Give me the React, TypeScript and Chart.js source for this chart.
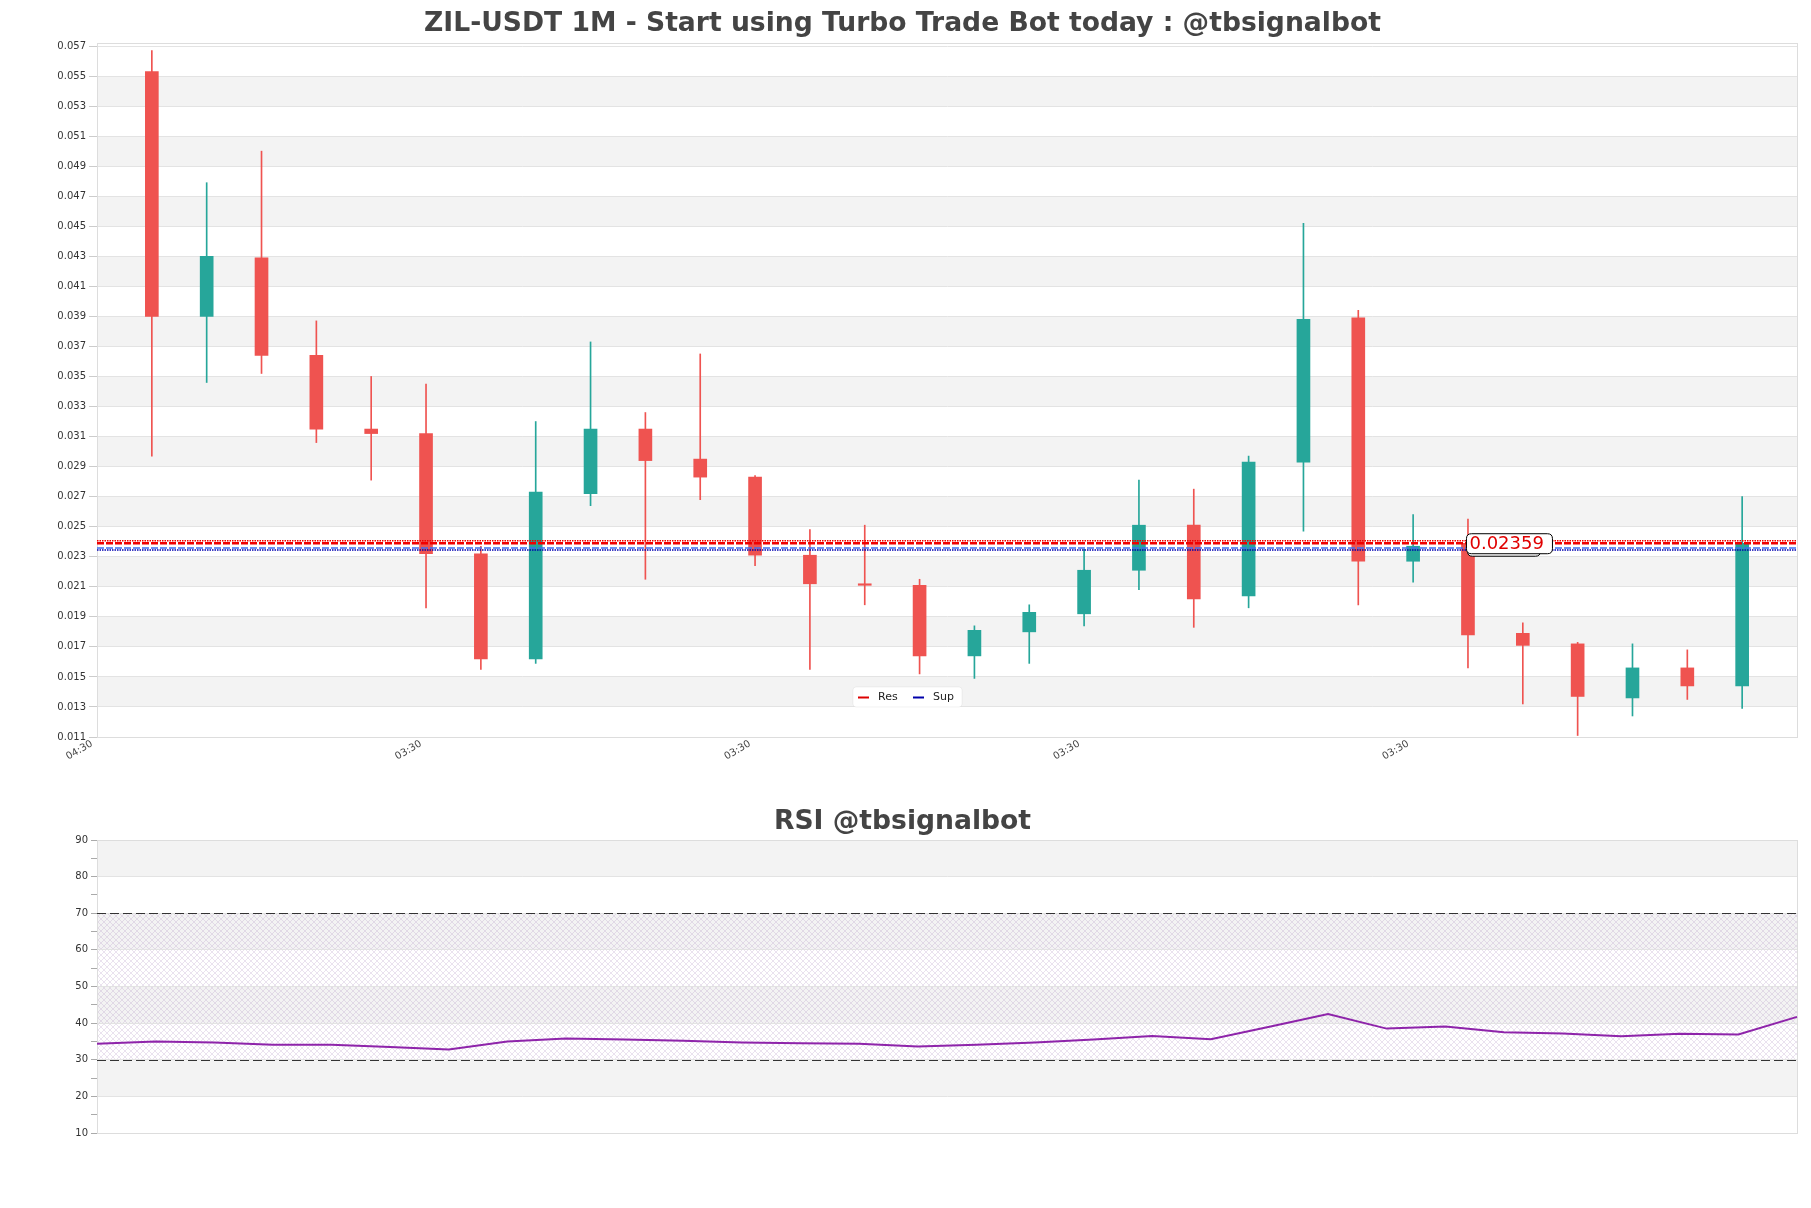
import React, { useEffect, useRef } from "react";
import { Chart, registerables } from "chart.js";

Chart.register(...registerables);

// ---------------- DATA ----------------
const titleMain = "ZIL-USDT 1M - Start using Turbo Trade Bot today : @tbsignalbot";
const titleRsi = "RSI @tbsignalbot";

const opens = [0.0553, 0.039, 0.0429, 0.0364, 0.0315, 0.0312, 0.0232, 0.0162, 0.0272, 0.0315, 0.0295, 0.0283, 0.0231, 0.0212, 0.0211, 0.0164, 0.018, 0.0192, 0.0221, 0.0251, 0.0204, 0.0293, 0.0389, 0.0227, 0.0239, 0.0179, 0.0172, 0.0136, 0.0156, 0.0144];
const highs = [0.0567, 0.0479, 0.05, 0.0387, 0.035, 0.0345, 0.0237, 0.032, 0.0373, 0.0326, 0.0365, 0.0284, 0.0248, 0.0251, 0.0215, 0.0184, 0.0198, 0.0235, 0.0281, 0.0275, 0.0297, 0.0452, 0.0394, 0.0258, 0.0255, 0.0186, 0.0173, 0.0172, 0.0168, 0.027];
const lows = [0.0297, 0.0346, 0.0352, 0.0306, 0.0281, 0.0196, 0.0155, 0.0159, 0.0264, 0.0215, 0.0268, 0.0224, 0.0155, 0.0198, 0.0152, 0.0149, 0.0159, 0.0184, 0.0208, 0.0183, 0.0196, 0.0247, 0.0198, 0.0213, 0.0156, 0.0132, 0.0111, 0.0124, 0.0135, 0.0129];
const closes = [0.039, 0.043, 0.0364, 0.0315, 0.0312, 0.0232, 0.0162, 0.0273, 0.0315, 0.0294, 0.0283, 0.0231, 0.0212, 0.0211, 0.0164, 0.0181, 0.0193, 0.0221, 0.0251, 0.0202, 0.0293, 0.0388, 0.0227, 0.0237, 0.0178, 0.0171, 0.0137, 0.0156, 0.0144, 0.0239];

const priceTicks = [0.011, 0.013, 0.015, 0.017, 0.019, 0.021, 0.023, 0.025, 0.027, 0.029, 0.031, 0.033, 0.035, 0.037, 0.039, 0.041, 0.043, 0.045, 0.047, 0.049, 0.051, 0.053, 0.055, 0.057];
const priceMin = 0.011;
const priceMax = 0.0572;
const xTickPositions = [0, 6, 12, 18, 24];
const xTickLabels = ["04:30", "03:30", "03:30", "03:30", "03:30"];

const resLevel = 0.0239;
const supLevel = 0.02359;
const priceTagText = "0.02359";
const priceTagX = 25;

const rsiValues = [34.4, 35.0, 34.7, 34.1, 34.1, 33.5, 32.8, 35.0, 35.8, 35.5, 35.2, 34.7, 34.5, 34.4, 33.6, 34.1, 34.7, 35.5, 36.5, 35.6, 39.0, 42.5, 38.5, 39.1, 37.5, 37.2, 36.4, 37.1, 36.9, 41.7];
const rsiTicks = [10, 15, 20, 25, 30, 35, 40, 45, 50, 55, 60, 65, 70, 75, 80, 85, 90];
const rsiUpper = 70;
const rsiLower = 30;

// ---------------- STYLE ----------------
const UP = "#26a69a";
const DOWN = "#ef5350";
const GRID = "#e3e3e3";
const BAND = "#f3f3f3";
const FONT = "'DejaVu Sans', sans-serif";
const TITLE_SIZE = 26.6;
const CANVAS_W = 1795;
const MAIN_H = 782;
const RSI_H = 410;
const AXIS_W = 89;

Chart.defaults.font.family = FONT;

function drawBands(chart: any, ticks: number[]) {
  const { ctx, chartArea: a, scales } = chart;
  const ys = scales.y;
  ctx.save();
  ctx.fillStyle = BAND;
  for (let j = 0; j < ticks.length - 1; j++) {
    if (j % 2 === 1) {
      const y1 = ys.getPixelForValue(ticks[j + 1]);
      const y2 = ys.getPixelForValue(ticks[j]);
      ctx.fillRect(a.left, y1, a.right - a.left, y2 - y1);
    }
  }
  ctx.restore();
}

function drawFrame(chart: any) {
  const { ctx, chartArea: a } = chart;
  ctx.save();
  ctx.strokeStyle = "#dddddd";
  ctx.lineWidth = 1;
  ctx.strokeRect(Math.round(a.left) + 0.5, Math.round(a.top) + 0.5, Math.round(a.right - a.left), Math.round(a.bottom - a.top));
  ctx.restore();
}

function roundRect(ctx: CanvasRenderingContext2D, x: number, y: number, w: number, h: number, r: number) {
  ctx.beginPath();
  ctx.moveTo(x + r, y);
  ctx.lineTo(x + w - r, y);
  ctx.quadraticCurveTo(x + w, y, x + w, y + r);
  ctx.lineTo(x + w, y + h - r);
  ctx.quadraticCurveTo(x + w, y + h, x + w - r, y + h);
  ctx.lineTo(x + r, y + h);
  ctx.quadraticCurveTo(x, y + h, x, y + h - r);
  ctx.lineTo(x, y + r);
  ctx.quadraticCurveTo(x, y, x + r, y);
  ctx.closePath();
}

const mainPlugin = {
  id: "mainDecor",
  beforeDraw(chart: any) {
    drawBands(chart, priceTicks);
  },
  beforeDatasetsDraw(chart: any) {
    drawFrame(chart);
  },
  afterDatasetsDraw(chart: any) {
    const { ctx, chartArea: a, scales } = chart;
    const resY = scales.y.getPixelForValue(resLevel);
    const supY = scales.y.getPixelForValue(supLevel);
    ctx.save();
    ctx.beginPath();
    ctx.rect(a.left, a.top, a.right - a.left, a.bottom - a.top);
    ctx.clip();
    ctx.lineWidth = 1.5;
    ctx.setLineDash([1.5, 1]);
    ctx.strokeStyle = "#ee0000";
    ctx.beginPath();
    ctx.moveTo(a.left, resY - 2.5);
    ctx.lineTo(a.right, resY - 2.5);
    ctx.stroke();
    ctx.strokeStyle = "#0000b0";
    ctx.beginPath();
    ctx.moveTo(a.left, supY + 2);
    ctx.lineTo(a.right, supY + 2);
    ctx.stroke();
    ctx.setLineDash([]);
    ctx.restore();

    // price tag
    ctx.save();
    const tx = scales.x.getPixelForValue(priceTagX) - 2;
    const ty = resY;
    ctx.lineWidth = 1;
    ctx.strokeStyle = "#000";
    ctx.fillStyle = "#fff";
    roundRect(ctx, tx + 1.5, ty - 6.5, 73, 19.5, 5);
    ctx.fill();
    ctx.stroke();
    roundRect(ctx, tx + 0.5, ty - 9.5, 86, 20, 5);
    ctx.fill();
    ctx.stroke();
    ctx.fillStyle = "#e00000";
    ctx.font = `18px ${FONT}`;
    ctx.textBaseline = "middle";
    ctx.textAlign = "left";
    ctx.fillText(priceTagText, tx + 3.5, ty + 1);
    ctx.restore();

    // legend
    ctx.save();
    const lw = 109;
    const lh = 20;
    const lx = Math.round(chart.width / 2 - 53);
    const ly = Math.round(a.bottom - 50);
    ctx.fillStyle = "rgba(255,255,255,0.95)";
    roundRect(ctx, lx, ly, lw, lh, 3);
    ctx.fill();
    ctx.strokeStyle = "rgba(0,0,0,0.05)";
    ctx.stroke();
    const items = chart.data.datasets.filter((d: any) => d.label === "Res" || d.label === "Sup");
    ctx.font = `11px ${FONT}`;
    ctx.textBaseline = "middle";
    items.forEach((d: any, k: number) => {
      const ox = lx + 5 + k * 55;
      ctx.strokeStyle = d.label === "Res" ? "#dd0000" : "#0000aa";
      ctx.lineWidth = 2;
      ctx.beginPath();
      ctx.moveTo(ox, ly + 10.5);
      ctx.lineTo(ox + 11, ly + 10.5);
      ctx.stroke();
      ctx.fillStyle = "#222";
      ctx.fillText(d.label, ox + 20, ly + 10.5);
    });
    ctx.restore();
  },
};

function makeHatch(ctx: CanvasRenderingContext2D) {
  const c = document.createElement("canvas");
  c.width = 12;
  c.height = 12;
  const p = c.getContext("2d")!;
  p.strokeStyle = "rgba(175,145,195,0.38)";
  p.lineWidth = 0.7;
  for (const off of [-12, -6, 0, 6, 12]) {
    p.beginPath();
    p.moveTo(off, 0);
    p.lineTo(off + 12, 12);
    p.stroke();
    p.beginPath();
    p.moveTo(off + 12, 0);
    p.lineTo(off, 12);
    p.stroke();
  }
  return ctx.createPattern(c, "repeat");
}

const rsiPlugin = {
  id: "rsiDecor",
  beforeDraw(chart: any) {
    drawBands(chart, rsiTicks.filter((t) => t % 10 === 0));
    const { ctx, chartArea: a, scales } = chart;
    const y1 = scales.y.getPixelForValue(rsiUpper);
    const y2 = scales.y.getPixelForValue(rsiLower);
    ctx.save();
    const pat = makeHatch(ctx);
    if (pat) {
      ctx.fillStyle = pat;
      ctx.fillRect(a.left, y1, a.right - a.left, y2 - y1);
    }
    ctx.restore();
  },
  beforeDatasetsDraw(chart: any) {
    drawFrame(chart);
    const { ctx, chartArea: a, scales } = chart;
    ctx.save();
    ctx.strokeStyle = "#333";
    ctx.lineWidth = 1.2;
    ctx.setLineDash([9, 4]);
    for (const v of [rsiUpper, rsiLower]) {
      const y = Math.round(scales.y.getPixelForValue(v)) + 0.5;
      ctx.beginPath();
      ctx.moveTo(a.left, y);
      ctx.lineTo(a.right, y);
      ctx.stroke();
    }
    ctx.restore();
  },
};

export default function App() {
  const mainRef = useRef<HTMLCanvasElement | null>(null);
  const rsiRef = useRef<HTMLCanvasElement | null>(null);

  useEffect(() => {
    const xs = opens.map((_, i) => i + 1);
    const colors = opens.map((o, i) => (closes[i] >= o ? UP : DOWN));

    const main = new Chart(mainRef.current!, {
      type: "bar",
      data: {
        datasets: [
          {
            type: "bar",
            label: "body",
            data: xs.map((x, i) => ({ x, y: [opens[i], closes[i]] })) as any,
            backgroundColor: colors,
            borderWidth: 0,
            barThickness: 13,
            grouped: false,
            minBarLength: 1,
            order: 1,
          } as any,
          {
            type: "bar",
            label: "wick",
            data: xs.map((x, i) => ({ x, y: [lows[i], highs[i]] })) as any,
            backgroundColor: colors,
            borderWidth: 0,
            barThickness: 1,
            grouped: false,
            order: 2,
          } as any,
          {
            type: "line",
            label: "Res",
            data: [
              { x: 0, y: resLevel },
              { x: 31, y: resLevel },
            ],
            borderColor: "#f00000",
            borderWidth: 2.5,
            borderDash: [7, 2],
            pointRadius: 0,
            order: 0,
          } as any,
          {
            type: "line",
            label: "Sup",
            data: [
              { x: 0, y: supLevel },
              { x: 31, y: supLevel },
            ],
            borderColor: "#3d6cf0",
            borderWidth: 1.5,
            borderDash: [7, 2],
            pointRadius: 0,
            order: 0,
          } as any,
        ],
      },
      options: {
        responsive: false,
        animation: false,
        events: [],
        devicePixelRatio: 1,
        layout: { padding: { left: 0, right: CANVAS_W - 1789, top: 0, bottom: 0 } },
        plugins: {
          legend: { display: false },
          tooltip: { enabled: false },
          title: {
            display: true,
            text: titleMain,
            color: "#444",
            font: { family: FONT, size: TITLE_SIZE, weight: "bold" },
            padding: { top: 0, bottom: 35 - TITLE_SIZE * 1.2 },
          },
        },
        scales: {
          x: {
            type: "linear",
            min: 0,
            max: 31,
            offset: false,
            grid: { display: false, drawTicks: false, tickLength: 0, offset: false },
            border: { display: true, color: "#dddddd" },
            afterBuildTicks: (s: any) => {
              s.ticks = xTickPositions.map((v) => ({ value: v }));
            },
            afterFit: (s: any) => {
              s.height = MAIN_H - 729;
            },
            ticks: {
              autoSkip: false,
              minRotation: 30,
              maxRotation: 30,
              padding: 1,
              labelOffset: -5,
              color: "#444",
              font: { family: FONT, size: 10 },
              callback: (_v: any, idx: number) => xTickLabels[idx],
            },
          },
          y: {
            type: "linear",
            min: priceMin,
            max: priceMax,
            grid: { color: GRID, tickColor: "#cccccc", tickLength: 8 },
            border: { display: true, color: "#dddddd" },
            afterBuildTicks: (s: any) => {
              s.ticks = priceTicks.map((v) => ({ value: v }));
            },
            afterFit: (s: any) => {
              s.width = AXIS_W;
            },
            ticks: {
              color: "#333",
              padding: 3,
              font: { family: FONT, size: 10 },
              callback: (v: any) => Number(v).toFixed(3),
            },
          },
        },
      } as any,
      plugins: [mainPlugin],
    });

    const rsi = new Chart(rsiRef.current!, {
      type: "line",
      data: {
        labels: rsiValues.map(() => ""),
        datasets: [
          {
            label: "RSI",
            data: rsiValues,
            borderColor: "#8e24aa",
            borderWidth: 2,
            pointRadius: 0,
            tension: 0,
            fill: false,
          },
        ],
      },
      options: {
        responsive: false,
        animation: false,
        events: [],
        devicePixelRatio: 1,
        layout: { padding: { left: 0, right: CANVAS_W - 1789, top: 0, bottom: 0 } },
        plugins: {
          legend: { display: false },
          tooltip: { enabled: false },
          title: {
            display: true,
            text: titleRsi,
            color: "#444",
            font: { family: FONT, size: TITLE_SIZE, weight: "bold" },
            padding: { top: 16.5, bottom: 50 - 16.5 - TITLE_SIZE * 1.2 },
          },
        },
        scales: {
          x: {
            type: "category",
            offset: false,
            grid: { display: false },
            border: { display: true, color: "#dddddd" },
            ticks: { display: false },
            afterFit: (s: any) => {
              s.height = RSI_H - 343;
            },
          },
          y: {
            type: "linear",
            min: rsiTicks[0],
            max: rsiTicks[rsiTicks.length - 1],
            afterBuildTicks: (s: any) => {
              s.ticks = rsiTicks.map((v) => ({ value: v }));
            },
            afterFit: (s: any) => {
              s.width = AXIS_W;
            },
            grid: {
              color: (c: any) => (c.tick && c.tick.value % 10 === 0 ? GRID : "rgba(0,0,0,0)"),
              tickColor: "#aaaaaa",
              tickLength: 6,
            },
            border: { display: true, color: "#dddddd" },
            ticks: {
              autoSkip: false,
              color: "#333",
              padding: 3,
              font: { family: FONT, size: 10 },
              callback: (v: any) => (Number(v) % 10 === 0 ? String(v) : ""),
            },
          },
        },
      } as any,
      plugins: [rsiPlugin],
    });

    return () => {
      main.destroy();
      rsi.destroy();
    };
  }, []);

  return (
    <div style={{ width: CANVAS_W }}>
      <canvas ref={mainRef} width={CANVAS_W} height={MAIN_H} style={{ display: "block", width: CANVAS_W, height: MAIN_H }} />
      <canvas ref={rsiRef} width={CANVAS_W} height={RSI_H} style={{ display: "block", width: CANVAS_W, height: RSI_H }} />
    </div>
  );
}
